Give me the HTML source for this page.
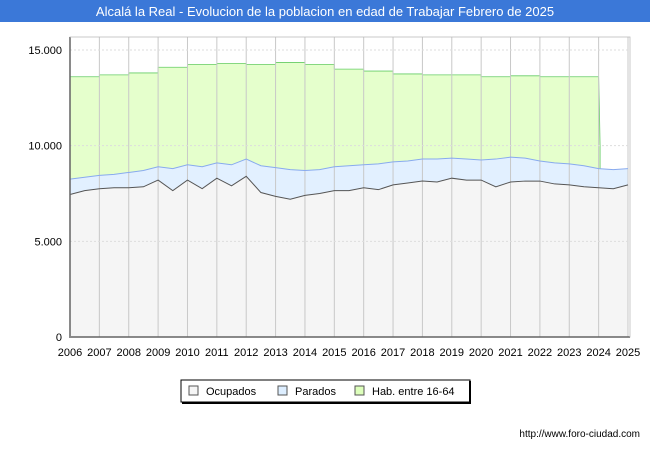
<!DOCTYPE html>
<html><head><meta charset="utf-8">
<style>
body{margin:0;background:#fff;font-family:"Liberation Sans",sans-serif;}
#wrap{position:relative;width:650px;height:450px;overflow:hidden;}
</style></head>
<body>
<div id="wrap">
<svg id="svg" width="650" height="450" xmlns="http://www.w3.org/2000/svg">
<rect x="0" y="0" width="650" height="22" fill="#3b78d8"/>
<text x="325" y="16" text-anchor="middle" font-size="13" fill="#fff">Alcalá la Real - Evolucion de la poblacion en edad de Trabajar Febrero de 2025</text>
<g id="plot"></g>
<g>
<rect x="181" y="380" width="289" height="22" fill="#fff" stroke="#000" stroke-width="1"/>
<line x1="470" y1="381" x2="470" y2="403" stroke="#000" stroke-width="2"/>
<line x1="182" y1="403" x2="471" y2="403" stroke="#000" stroke-width="2"/>
<g><rect x="189" y="386" width="9" height="9" fill="#f5f5f5" stroke="#555"/><text x="206" y="395" font-size="11">Ocupados</text></g>
<g><rect x="278" y="386" width="9" height="9" fill="#ddeeff" stroke="#555"/><text x="295" y="395" font-size="11">Parados</text></g>
<g><rect x="355" y="386" width="9" height="9" fill="#ddffbb" stroke="#555"/><text x="372" y="395" font-size="11">Hab. entre 16-64</text></g>
</g>
<text x="640" y="437" text-anchor="end" font-size="10" fill="#000">http://www.foro-ciudad.com</text>
</svg>
</div>
<script>
const years=[2006,2007,2008,2009,2010,2011,2012,2013,2014,2015,2016,2017,2018,2019,2020,2021,2022,2023,2024,2025];
const yTicks=[0,5000,10000,15000];
const yTickLabels=["0","5.000","10.000","15.000"];
const habValues=[13600,13700,13800,14100,14250,14300,14250,14350,14250,14000,13900,13750,13700,13700,13600,13650,13600,13600];
const habTail=[12400,10000];
const ocupados=[7450,7650,7750,7800,7800,7850,8200,7650,8200,7750,8300,7900,8400,7550,7350,7200,7400,7500,7650,7650,7800,7700,7950,8050,8150,8100,8300,8200,8200,7850,8100,8150,8150,8000,7950,7850,7800,7750,7950];
const parados=[8250,8350,8450,8500,8600,8700,8900,8800,9000,8900,9100,9000,9300,8950,8850,8750,8700,8750,8900,8950,9000,9050,9150,9200,9300,9300,9350,9300,9250,9300,9400,9350,9200,9100,9050,8950,8800,8750,8800];

const X0=70,X1=628,YB=337,YT=50;
const xs=t=>X0+(t-2006)/(2025-2006)*(X1-X0);
const ys=v=>YB-v/15000*(YB-YT);
const NS="http://www.w3.org/2000/svg";
const plot=document.getElementById('plot');
function mk(tag,attrs,parent){const e=document.createElementNS(NS,tag);for(const k in attrs)e.setAttribute(k,attrs[k]);(parent||plot).appendChild(e);return e;}

const bg=mk('rect',{x:X0,y:37,width:X1-X0+2,height:YB-37,fill:'#fff'});



// hab area (step)
let hp=`M${xs(2006)},${YB}`;
habValues.forEach((v,i)=>{hp+=` L${xs(2006+i)},${ys(v)} L${xs(2007+i)},${ys(v)}`;});
const tEnd=2006+habValues.length;
hp+=` L${xs(tEnd+0.02)},${ys(habTail[0])} L${xs(tEnd+0.05)},${ys(habTail[1])} L${xs(tEnd+0.05)},${YB} Z`;
const ha=mk('path',{d:hp,fill:'#e5ffcc',stroke:'#66cc66','stroke-width':0.8});



function linePts(arr){return arr.map((v,i)=>`${xs(2006+i*0.5)},${ys(v)}`);}
const pp=linePts(parados);
const pa=mk('path',{d:`M${xs(2006)},${YB} L${pp.join(' L')} L${xs(2006+(parados.length-1)*0.5)},${YB} Z`,fill:'#e2f0ff'});


const op=linePts(ocupados);
const oa=mk('path',{d:`M${xs(2006)},${YB} L${op.join(' L')} L${xs(2006+(ocupados.length-1)*0.5)},${YB} Z`,fill:'#f5f5f5'});



// grid
years.forEach(y=>{const l=mk('line',{x1:xs(y),y1:37,x2:xs(y),y2:YB,stroke:'#c8c8c8','stroke-width':1});


const t=mk('text',{x:xs(y),y:356,'text-anchor':'middle','font-size':11});t.textContent=y;

});
yTicks.forEach((v,i)=>{if(v>0){const l=mk('line',{x1:X0,y1:ys(v),x2:X1+2,y2:ys(v),stroke:'#ddd','stroke-width':1,'stroke-dasharray':'2,2'});

}
const t=mk('text',{x:62,y:ys(v)+4,'text-anchor':'end','font-size':11});t.textContent=yTickLabels[i];

});

const pl=mk('polyline',{points:pp.join(' '),fill:'none',stroke:'#88aaee','stroke-width':1});


const ol=mk('polyline',{points:op.join(' '),fill:'none',stroke:'#555','stroke-width':1});



const ax=mk('path',{d:`M${X0},37 L${X0},${YB} L${X1+2},${YB}`,fill:'none',stroke:'#000','stroke-width':1.5});


const br=mk('rect',{x:X0,y:37,width:X1-X0+2,height:YB-37,fill:'none',stroke:'#bbb','stroke-width':0.8});


</script>
</body></html>
